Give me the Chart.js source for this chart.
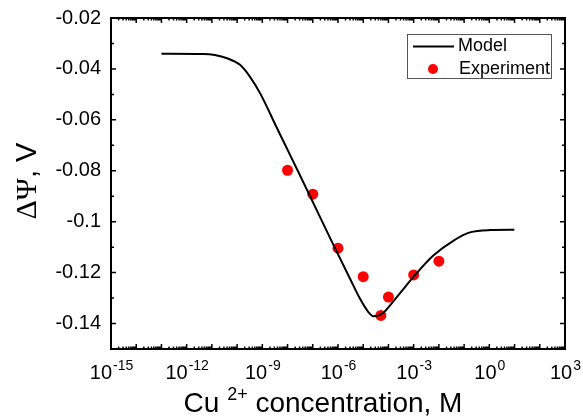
<!DOCTYPE html>
<html>
<head>
<meta charset="utf-8">
<script src="https://cdn.jsdelivr.net/npm/chart.js@4.4.1/dist/chart.umd.min.js"></script>
<style>
  html, body { margin: 0; padding: 0; background: #fff; }
  canvas { display: block; }
</style>
</head>
<body>
<canvas id="myChart" width="583" height="416"></canvas>
<script>
// Model curve (concentration in M, potential in V)
var modelConc = [1e-13, 4.5e-12, 1.3e-11, 4e-11, 1.3e-10, 3.2e-10, 8.1e-10, 3.8e-9, 7.9e-9, 2.6e-8, 7.8e-8,
                 6.3e-7, 3e-6, 7.4e-6, 1.6e-5, 2.5e-5, 3.9e-5, 6.3e-5, 1.2e-4, 3.1e-4, 9.8e-4, 6e-3, 3.7e-2, 0.17, 1.07, 9.8];
var modelPsi = [-0.0340, -0.0341, -0.0345, -0.0358, -0.0384, -0.0430, -0.0495, -0.0632, -0.0697, -0.0802, -0.0900,
                -0.1087, -0.1224, -0.1302, -0.1355, -0.1371, -0.1369, -0.1358, -0.1327, -0.1277, -0.1217, -0.1133, -0.1075, -0.1042, -0.1033, -0.1032];

// Experiment points
var expConc = [1e-8, 1e-7, 1e-6, 1e-5, 5e-5, 1e-4, 1e-3, 1e-2];
var expPsi = [-0.0798, -0.0892, -0.1104, -0.1216, -0.1368, -0.1296, -0.1209, -0.1155];

// ticks
var yTicks = [-0.02, -0.04, -0.06, -0.08, -0.1, -0.12, -0.14];
var yTickLabels = ['-0.02', '-0.04', '-0.06', '-0.08', '-0.1', '-0.12', '-0.14'];
var xTickExp = [-15, -12, -9, -6, -3, 0, 3];

var FONT = '"Liberation Sans", Arial, sans-serif';
var SERIF = '"Liberation Serif", "Times New Roman", serif';

function toXY(xs, ys) {
  return xs.map(function (x, i) { return { x: x, y: ys[i] }; });
}

// frame, ticks, labels and legend drawn by hand (Origin style)
var decor = {
  id: 'decor',
  afterDraw: function (chart) {
    var ctx = chart.ctx, a = chart.chartArea;
    var sx = chart.scales.x, sy = chart.scales.y;
    ctx.save();
    ctx.strokeStyle = '#000';
    ctx.fillStyle = '#000';

    // inward ticks
    ctx.lineWidth = 1.5;
    ctx.beginPath();
    for (var e = -15; e <= 3; e++) {
      var px = sx.getPixelForValue(Math.pow(10, e));
      ctx.moveTo(px, a.bottom); ctx.lineTo(px, a.bottom - 5);
      ctx.moveTo(px, a.top); ctx.lineTo(px, a.top + 5);
      if (e < 3) {
        for (var m = 2; m <= 9; m++) {
          var mx = sx.getPixelForValue(m * Math.pow(10, e));
          ctx.moveTo(mx, a.bottom); ctx.lineTo(mx, a.bottom - 2.5);
          ctx.moveTo(mx, a.top); ctx.lineTo(mx, a.top + 2.5);
        }
      }
    }
    for (var k = 2; k <= 15; k++) {
      var v = -k / 100;
      var py = sy.getPixelForValue(v);
      var len = (k % 2 === 0) ? 5 : 3;
      ctx.moveTo(a.left, py); ctx.lineTo(a.left + len, py);
      ctx.moveTo(a.right, py); ctx.lineTo(a.right - len, py);
    }
    ctx.stroke();

    // frame
    ctx.lineWidth = 2;
    ctx.strokeRect(a.left, a.top, a.right - a.left, a.bottom - a.top);

    // y tick labels
    ctx.font = '20px ' + FONT;
    ctx.textAlign = 'right';
    ctx.textBaseline = 'middle';
    yTicks.forEach(function (t, i) {
      ctx.fillText(yTickLabels[i], a.left - 10, sy.getPixelForValue(t));
    });

    // x tick labels 10^n
    ctx.textAlign = 'left';
    ctx.textBaseline = 'alphabetic';
    xTickExp.forEach(function (n) {
      var cx = sx.getPixelForValue(Math.pow(10, n));
      ctx.font = '20px ' + FONT;
      var wb = ctx.measureText('10').width;
      ctx.font = '14px ' + FONT;
      var we = ctx.measureText(String(n)).width;
      var x0 = cx - (wb + we) / 2;
      ctx.font = '20px ' + FONT;
      ctx.fillText('10', x0, a.bottom + 30);
      ctx.font = '14px ' + FONT;
      ctx.fillText(String(n), x0 + wb + 1, a.bottom + 21);
    });

    // x title
    ctx.font = '28px ' + FONT;
    var w1 = ctx.measureText('Cu ').width;
    var w3 = ctx.measureText(' concentration, M').width;
    ctx.font = '18px ' + FONT;
    var w2 = ctx.measureText('2+').width;
    var tx = 323 - (w1 + w2 + w3) / 2;
    ctx.font = '28px ' + FONT;
    ctx.fillText('Cu ', tx, 412);
    ctx.font = '18px ' + FONT;
    ctx.fillText('2+', tx + w1, 400);
    ctx.font = '28px ' + FONT;
    ctx.fillText(' concentration, M', tx + w1 + w2, 412);

    // y title: serif Greek letters, sans unit
    ctx.save();
    ctx.translate(36, 181);
    ctx.rotate(-Math.PI / 2);
    ctx.textAlign = 'left';
    ctx.textBaseline = 'alphabetic';
    ctx.font = '30px ' + SERIF;
    var g = ctx.measureText('\u0394\u03A8').width;
    ctx.font = '29px ' + FONT;
    var u = ctx.measureText(', V').width;
    var y0 = -(g + u) / 2;
    ctx.font = '30px ' + SERIF;
    ctx.fillText('\u0394\u03A8', y0, 0);
    ctx.font = '29px ' + FONT;
    ctx.fillText(', V', y0 + g, 0);
    ctx.restore();

    // legend
    ctx.lineWidth = 1;
    ctx.strokeStyle = '#555';
    ctx.strokeRect(407.5, 34.5, 144, 44);
    ctx.strokeStyle = '#000';
    ctx.lineWidth = 2;
    ctx.beginPath();
    ctx.moveTo(413, 46.5); ctx.lineTo(454, 46.5);
    ctx.stroke();
    ctx.fillStyle = '#ff0000';
    ctx.beginPath();
    ctx.arc(433, 69, 5, 0, Math.PI * 2);
    ctx.fill();
    ctx.fillStyle = '#000';
    ctx.font = '18px ' + FONT;
    ctx.textAlign = 'left';
    ctx.textBaseline = 'middle';
    ctx.fillText('Model', 458, 46.5);
    ctx.fillText('Experiment', 459, 69);

    ctx.restore();
  }
};

var ctx = document.getElementById('myChart').getContext('2d');
var chart = new Chart(ctx, {
  type: 'line',
  data: {
    datasets: [{
      label: 'Model',
      data: toXY(modelConc, modelPsi),
      borderColor: '#000',
      borderWidth: 2,
      pointRadius: 0,
      cubicInterpolationMode: 'monotone',
      fill: false
    }, {
      label: 'Experiment',
      data: toXY(expConc, expPsi),
      showLine: false,
      pointRadius: 5.5,
      pointBackgroundColor: '#ff0000',
      pointBorderColor: '#ff0000',
      pointBorderWidth: 0
    }]
  },
  options: {
    responsive: false,
    animation: false,
    devicePixelRatio: 1,
    layout: { padding: { left: 111, right: 18, top: 18, bottom: 67 } },
    plugins: { legend: { display: false }, tooltip: { enabled: false } },
    scales: {
      x: { type: 'logarithmic', min: 1e-15, max: 1e3, display: false },
      y: { type: 'linear', min: -0.15, max: -0.02, display: false }
    }
  },
  plugins: [decor]
});
</script>
</body>
</html>
